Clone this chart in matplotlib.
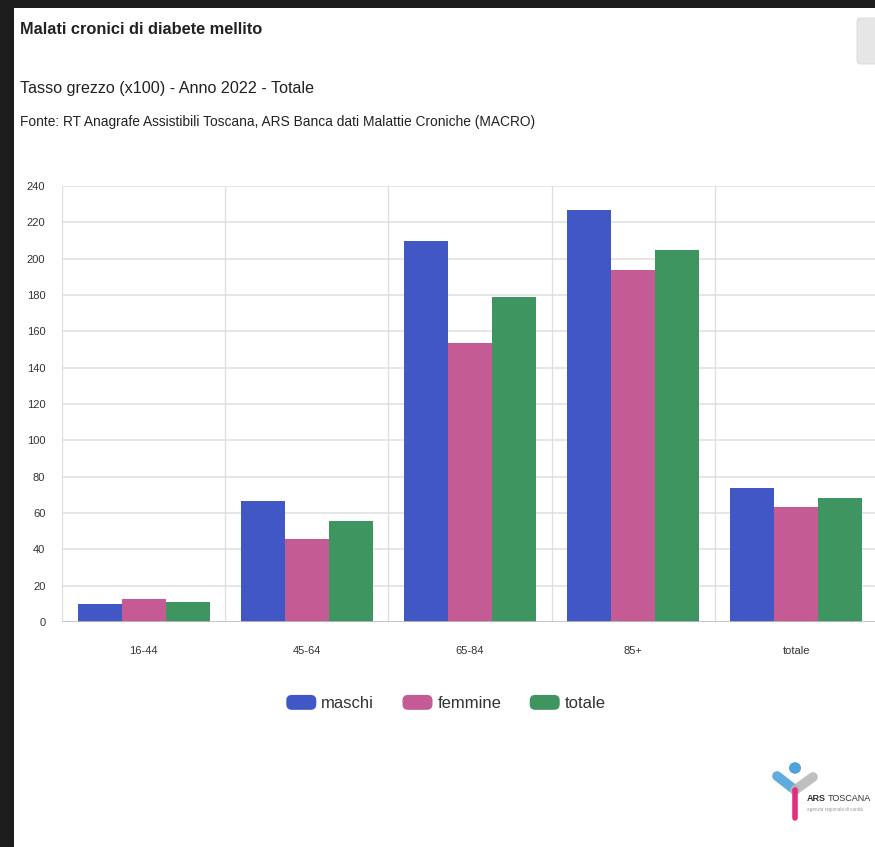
import matplotlib
matplotlib.use("Agg")
import numpy as np
import matplotlib.pyplot as plt
from matplotlib.patches import Rectangle, FancyBboxPatch, Patch, Circle
from matplotlib.legend_handler import HandlerPatch
from matplotlib.lines import Line2D

# data
categories = ["16-44", "45-64", "65-84", "85+", "totale"]
series = ["maschi", "femmine", "totale"]
maschi = [9.7, 66.5, 209.6, 227.0, 73.6]
femmine = [12.4, 45.5, 153.7, 194.0, 63.5]
totale = [11.0, 55.4, 179.0, 205.0, 68.4]
colors = ["#4157C6", "#C55B95", "#3F955F"]
yticks = list(range(0, 241, 20))

plt.rcParams["font.family"] = ["Liberation Sans Narrow", "Liberation Sans", "DejaVu Sans"]

W, H = 875, 847
fig = plt.figure(figsize=(W / 100, H / 100), dpi=100)
fig.patch.set_facecolor("white")


def fx(px):
    return px / W


def fy(py):
    return 1 - py / H


# screenshot frame
fig.patches.append(Rectangle((0, 0), fx(14), 1, transform=fig.transFigure,
                             facecolor="#1d1d1d", edgecolor="none", zorder=0))
fig.patches.append(Rectangle((0, fy(8)), 1, 8 / H, transform=fig.transFigure,
                             facecolor="#1d1d1d", edgecolor="none", zorder=0))
fig.patches.append(FancyBboxPatch((fx(857), fy(64)), fx(30), 46 / H,
                                  boxstyle="round,pad=0,rounding_size=0.004",
                                  transform=fig.transFigure, facecolor="#e6e6e6",
                                  edgecolor="#d8d8d8", lw=0.6, zorder=1))

# titles
fig.text(fx(20), fy(29), "Malati cronici di diabete mellito", fontsize=11.8,
         fontweight="bold", color="#222222", va="center", ha="left")
fig.text(fx(20), fy(89), "Tasso grezzo (x100) - Anno 2022 - Totale", fontsize=11.6,
         color="#222222", va="center", ha="left")
fig.text(fx(20), fy(122), "Fonte: RT Anagrafe Assistibili Toscana, ARS Banca dati Malattie Croniche (MACRO)",
         fontsize=9.9, color="#222222", va="center", ha="left")

# plot area
x0, x1, ytop, ybot = 62, 878, 186, 622
ax = fig.add_axes([fx(x0), fy(ybot), (x1 - x0) / W, (ybot - ytop) / H])
ax.set_facecolor("white")

x = np.arange(len(categories))
bw = 0.27
for i, (vals, c) in enumerate(zip([maschi, femmine, totale], colors)):
    ax.bar(x + (i - 1) * bw, vals, width=bw, color=c, edgecolor="none", zorder=3,
           label=series[i])

ax.set_xlim(-0.5, len(categories) - 0.5)
ax.set_ylim(0, 240)
ax.set_yticks(yticks)
ax.set_yticklabels([str(t) for t in yticks], fontsize=8, color="#333333")
ax.set_xticks(x)
ax.set_xticklabels(categories, fontsize=8, color="#333333")
ax.tick_params(axis="both", length=0)
ax.tick_params(axis="y", pad=12)
ax.tick_params(axis="x", pad=17)

for t in yticks[1:]:
    ax.axhline(t, color="#e2e2e2", lw=1.2, zorder=1)
for b in np.arange(-0.5, len(categories), 1.0):
    ax.axvline(b, color="#dedede", lw=0.9, zorder=1)
ax.axhline(0, color="#bdbdbd", lw=1.2, zorder=4)
for s in ax.spines.values():
    s.set_visible(False)


class RoundHandler(HandlerPatch):
    def create_artists(self, legend, orig_handle, xdescent, ydescent, width,
                       height, fontsize, trans):
        p = FancyBboxPatch((-xdescent, -ydescent), width, height,
                           boxstyle="round,pad=0,rounding_size=4",
                           facecolor=orig_handle.get_facecolor(),
                           edgecolor="none", transform=trans)
        return [p]


handles = [Patch(facecolor=c) for c in colors]
fig.legend(handles, series, loc="center", bbox_to_anchor=(fx(446), fy(703)),
           bbox_transform=fig.transFigure, ncol=3, frameon=False, fontsize=12,
           handlelength=1.8, handleheight=1.0, handletextpad=0.3,
           columnspacing=1.7, handler_map={Patch: RoundHandler()},
           labelcolor="#333333")

# logo
lx, ly = 795, 790
fig.add_artist(Line2D([fx(777), fx(lx)], [fy(776), fy(ly)], transform=fig.transFigure,
                      color="#4fa3dc", lw=7, solid_capstyle="round", alpha=0.9))
fig.add_artist(Line2D([fx(lx), fx(813)], [fy(ly), fy(777)], transform=fig.transFigure,
                      color="#b8b8b8", lw=7, solid_capstyle="round", alpha=0.9))
fig.add_artist(Line2D([fx(lx), fx(lx)], [fy(ly), fy(818)], transform=fig.transFigure,
                      color="#e0307a", lw=4, solid_capstyle="round"))
fig.add_artist(Circle((fx(lx), fy(768)), 6 / W, transform=fig.transFigure,
                      facecolor="#4fa3dc", edgecolor="none"))
fig.text(fx(807), fy(798), "ARS", fontsize=6.5, fontweight="bold", color="#333333",
         va="center", ha="left")
fig.text(fx(828), fy(798), "TOSCANA", fontsize=6.5, color="#333333",
         va="center", ha="left")
fig.text(fx(807), fy(809), "agenzia regionale di sanità", fontsize=3.3, color="#999999",
         va="center", ha="left")

fig.savefig("out.png", dpi=100, facecolor="white")
